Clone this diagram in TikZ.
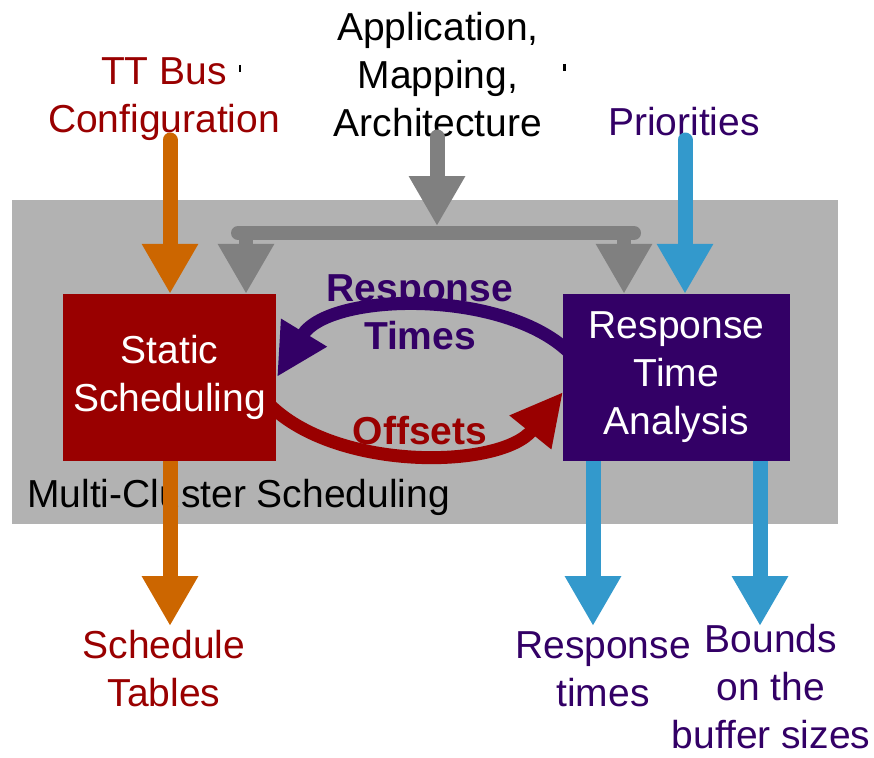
\documentclass[tikz,border=0pt]{standalone}
\usepackage{fontspec}
\setmainfont{Liberation Sans}
\usetikzlibrary{arrows.meta}
\definecolor{bred}{HTML}{990000}
\definecolor{bpurple}{HTML}{330066}
\definecolor{borange}{HTML}{CC6600}
\definecolor{bblue}{HTML}{3399CC}
\definecolor{bgray}{HTML}{808080}
\definecolor{bgback}{HTML}{B2B2B2}
\begin{document}
\begin{tikzpicture}[x=1pt,y=-1pt,
  lbl/.style={font=\fontsize{39}{48}\selectfont, align=center, inner sep=0pt},
  blbl/.style={font=\fontsize{39}{48}\selectfont\bfseries, align=center, inner sep=0pt},
  box/.style={draw=none, minimum width=213pt, minimum height=167pt, inner sep=0pt, text=white, align=center, font=\fontsize{39}{48}\selectfont},
  fat/.style={line width=15pt, line cap=round, -{Triangle[length=50pt,width=53pt]}},
  bar/.style={line width=14pt, line cap=round, bgray},
  curve/.style={line width=13pt, -{Triangle[length=52pt,width=50pt]}},
  tick/.style={line width=2.5pt, black}
]
\useasboundingbox (0,0) rectangle (874,757);
% background panel
\fill[bgback] (12,200) rectangle (838,524);
\node[lbl, anchor=west] (mcs) at (27,497) {Multi-Cluster Scheduling};

% labels
\node[lbl, text=bred] (ttb) at (164,99) {TT Bus\\Configuration};
\node[lbl] (app) at (438,75) {Application,\\Mapping,\\Architecture};
\node[lbl, text=bpurple] (prio) at (684,122) {Priorities};
\node[lbl, text=bred] (tables) at (164,669) {Schedule\\Tables};
\node[lbl, text=bpurple] (resp) at (603,669) {Response\\times};
\node[lbl, text=bpurple] (bounds) at (771,687) {Bounds\\on the\\buffer sizes};

% stray tick marks
\draw[tick] (240,65) -- (240,72);
\draw[tick] (564.5,64) -- (564.5,71);

% coordinates
\coordinate (oTop) at (170,140);
\coordinate (gTop) at (437,137);
\coordinate (gJoin) at (437,226);
\coordinate (barL) at (238,233);
\coordinate (barR) at (634,233);
\coordinate (dropL) at (246,233);
\coordinate (dropR) at (624,233);
\coordinate (bTop) at (685,140);
\coordinate (oBot) at (170,626);
\coordinate (b1Bot) at (593,626);
\coordinate (b2Bot) at (760,626);

% curved arrows (drawn before boxes so starts are hidden)
\coordinate (pStart) at (578,362);
\coordinate (pEnd) at (277,377);
\coordinate (rStart) at (265,400);
\coordinate (rEnd) at (563,392);
\draw[curve, bpurple] (pStart) .. controls (520,288) and (330,290) .. (pEnd);
\draw[curve, bred] (rStart) .. controls (330,472) and (500,470) .. (rEnd);

% boxes
\node[box, fill=bred] (ss) at (169.5,377.5) {Static\\Scheduling};
\node[box, fill=bpurple, minimum width=227pt] (rta) at (676.5,377.5) {Response\\Time\\Analysis};

% straight arrows
\draw[fat, borange] (oTop) -- (oTop |- ss.north);
\draw[fat, bgray] (gTop) -- (gJoin);
\draw[bar] (barL) -- (barR);
\draw[bar, line cap=butt, -{Triangle[length=50pt,width=53pt]}] (dropL) -- (dropL |- ss.north);
\draw[bar, line cap=butt, -{Triangle[length=50pt,width=53pt]}] (dropR) -- (dropR |- rta.north);
\draw[fat, bblue] (bTop) -- (bTop |- rta.north);
\draw[fat, borange, line cap=butt] (ss.south -| oTop) -- (oBot);
\draw[fat, bblue, line cap=butt] (rta.south -| b1Bot) -- (b1Bot);
\draw[fat, bblue, line cap=butt] (rta.south -| b2Bot) -- (b2Bot);

% curve labels
\node[blbl, text=bpurple] (rtimes) at (420,312) {Response\\Times};
\node[blbl, text=bred] (offs) at (420,431) {Offsets};
\end{tikzpicture}
\end{document}
